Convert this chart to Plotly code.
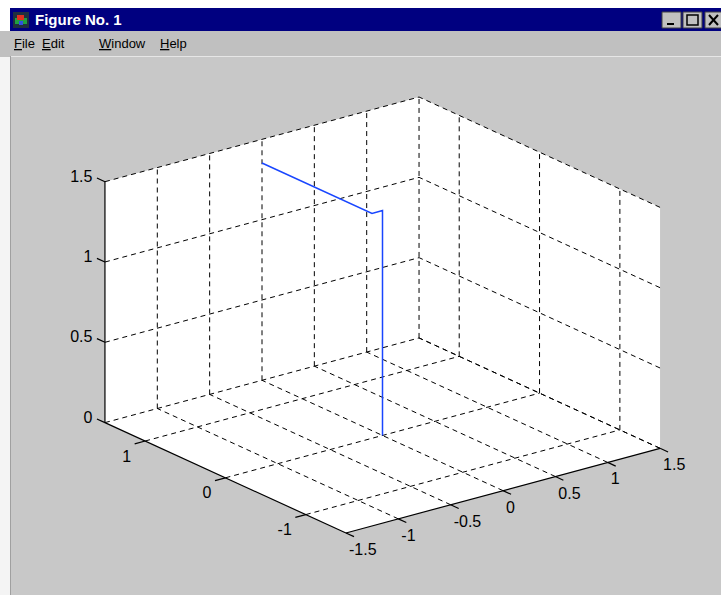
import math
import plotly.graph_objects as go

# ---------------- data ----------------
x_ticks = [-1.5, -1, -0.5, 0, 0.5, 1, 1.5]
x_tick_labels = ["-1.5", "-1", "-0.5", "0", "0.5", "1", "1.5"]
y_ticks = [-1, 0, 1]
y_tick_labels = ["-1", "0", "1"]
z_ticks = [0, 0.5, 1, 1.5]
z_tick_labels = ["0", "0.5", "1", "1.5"]

x_range = [-1.5, 1.5]
y_range = [-1.5, 1.5]
z_range = [0, 1.5]

path_x = [0, 0, -0.1, -0.1]
path_y = [0, 0, 0, 1.37]
path_z = [0, 1.4, 1.4, 1.4]

# ---------------- view (MATLAB default 3-D view) ----------------
AZ, EL = -37.5, 30.0
W, H = 721, 595
PX_U, PX_V = 395.9, 278.2          # stretch-to-fill scale of the plot box
CX, CY = 382.5, 315.0              # pixel position of the box centre

xmin, xmax = x_range
ymin, ymax = y_range
zmin, zmax = z_range

a = math.radians(AZ)
e = math.radians(EL)
R = (math.cos(a), math.sin(a), 0.0)
U = (-math.sin(e) * math.sin(a), math.sin(e) * math.cos(a), math.cos(e))

def proj(x, y, z):
    X = (x - (xmin + xmax) / 2) / (xmax - xmin)
    Y = (y - (ymin + ymax) / 2) / (ymax - ymin)
    Z = (z - (zmin + zmax) / 2) / (zmax - zmin)
    return (R[0] * X + R[1] * Y + R[2] * Z, U[0] * X + U[1] * Y + U[2] * Z)

def shifted(p, dx_px, dy_px_down):
    u, v = proj(*p)
    return (u + dx_px / PX_U, v - dy_px_down / PX_V)

def px(x):
    return x / W
def py(y):
    return 1 - y / H

def seg_xy(segs):
    xs, ys = [], []
    for (p, q) in segs:
        u1, v1 = proj(*p)
        u2, v2 = proj(*q)
        xs += [u1, u2, None]
        ys += [v1, v2, None]
    return xs, ys

def poly_xy(polys):
    xs, ys = [], []
    for poly in polys:
        for p in poly + [poly[0]]:
            u, v = proj(*p)
            xs.append(u)
            ys.append(v)
        xs.append(None)
        ys.append(None)
    return xs, ys

# white walls
walls = [
    [(xmin, ymin, zmin), (xmax, ymin, zmin), (xmax, ymax, zmin), (xmin, ymax, zmin)],
    [(xmin, ymax, zmin), (xmax, ymax, zmin), (xmax, ymax, zmax), (xmin, ymax, zmax)],
    [(xmax, ymin, zmin), (xmax, ymax, zmin), (xmax, ymax, zmax), (xmax, ymin, zmax)],
]

# dashed grid
grid = []
for xv in x_ticks:
    if xv != xmin:
        grid.append(((xv, ymin, zmin), (xv, ymax, zmin)))
        grid.append(((xv, ymax, zmin), (xv, ymax, zmax)))
for yv in y_ticks:
    grid.append(((xmin, yv, zmin), (xmax, yv, zmin)))
    grid.append(((xmax, yv, zmin), (xmax, yv, zmax)))
for zv in z_ticks:
    grid.append(((xmin, ymax, zv), (xmax, ymax, zv)))
    grid.append(((xmax, ymin, zv), (xmax, ymax, zv)))

# solid axes + ticks
tk = 0.1
axes = [
    ((xmin, ymin, zmin), (xmax, ymin, zmin)),
    ((xmin, ymin, zmin), (xmin, ymax, zmin)),
    ((xmin, ymax, zmin), (xmin, ymax, zmax)),
]
for xv in x_ticks:
    axes.append(((xv, ymin, zmin), (xv, ymin - tk, zmin)))
for yv in y_ticks:
    axes.append(((xmin, yv, zmin), (xmin - tk, yv, zmin)))
for zv in z_ticks:
    axes.append(((xmin, ymax, zv), (xmin, ymax + tk, zv)))

font = dict(family="Liberation Sans, Arial, sans-serif", size=16, color="black")

fig = go.Figure()

wx, wy = poly_xy(walls)
fig.add_trace(go.Scatter(x=wx, y=wy, mode="lines", fill="toself", fillcolor="white",
                         line=dict(width=0, color="white"), hoverinfo="skip"))
gx, gy = seg_xy(grid)
fig.add_trace(go.Scatter(x=gx, y=gy, mode="lines",
                         line=dict(color="black", width=1, dash="5px,4px"), hoverinfo="skip"))
ax_x, ax_y = seg_xy(axes)
fig.add_trace(go.Scatter(x=ax_x, y=ax_y, mode="lines",
                         line=dict(color="black", width=1.2), hoverinfo="skip"))
pp = [proj(x, y, z) for x, y, z in zip(path_x, path_y, path_z)]
fig.add_trace(go.Scatter(x=[p[0] for p in pp], y=[p[1] for p in pp], mode="lines",
                         line=dict(color="rgb(25,70,255)", width=1.5), hoverinfo="skip"))

# tick labels
lx = [shifted((xv, ymin, zmin), 3, 10) for xv in x_ticks]
fig.add_trace(go.Scatter(x=[p[0] for p in lx], y=[p[1] for p in lx], mode="text",
                         text=x_tick_labels, textposition="bottom right",
                         textfont=font, hoverinfo="skip"))
ly = [shifted((xmin, yv, zmin), -14, 8.5) for yv in y_ticks]
fig.add_trace(go.Scatter(x=[p[0] for p in ly], y=[p[1] for p in ly], mode="text",
                         text=y_tick_labels, textposition="bottom left",
                         textfont=font, hoverinfo="skip"))
lz = [shifted((xmin, ymax, zv), -12.5, -4) for zv in z_ticks]
fig.add_trace(go.Scatter(x=[p[0] for p in lz], y=[p[1] for p in lz], mode="text",
                         text=z_tick_labels, textposition="middle left",
                         textfont=font, hoverinfo="skip"))

fig.update_layout(
    width=W, height=H,
    margin=dict(l=0, r=0, t=0, b=0),
    paper_bgcolor="#c0c0c0",
    plot_bgcolor="rgba(0,0,0,0)",
    showlegend=False,
    hovermode=False,
    xaxis=dict(visible=False, domain=[0, 1], fixedrange=True,
               range=[(0 - CX) / PX_U, (W - CX) / PX_U]),
    yaxis=dict(visible=False, domain=[0, 1], fixedrange=True,
               range=[(CY - H) / PX_V, CY / PX_V]),
)

shapes = [
    dict(type="rect", x0=px(0), x1=px(W), y0=py(0), y1=py(8), fillcolor="white"),
    dict(type="rect", x0=px(0), x1=px(10), y0=py(8), y1=py(31), fillcolor="white"),
    dict(type="rect", x0=px(10), x1=px(W), y0=py(8), y1=py(31), fillcolor="#000080"),
    dict(type="rect", x0=px(0), x1=px(10), y0=py(57), y1=py(H), fillcolor="#f4f4f4"),
    dict(type="rect", x0=px(10), x1=px(W), y0=py(56), y1=py(H), fillcolor="#c8c8c8"),
    dict(type="rect", x0=px(13), x1=px(29), y0=py(12), y1=py(28), fillcolor="#203040"),
    dict(type="rect", x0=px(15), x1=px(27), y0=py(18), y1=py(24), fillcolor="#20a040"),
    dict(type="rect", x0=px(17), x1=px(24), y0=py(15), y1=py(20), fillcolor="#e03020"),
    dict(type="rect", x0=px(19), x1=px(23), y0=py(21), y1=py(25), fillcolor="#3050e0"),
]
for s in shapes:
    s.update(xref="paper", yref="paper", layer="below", line=dict(width=0))
shapes.append(dict(type="line", xref="paper", yref="paper", layer="below",
                   x0=px(10), x1=px(W), y0=py(56.5), y1=py(56.5), line=dict(color="#e6e6e6", width=1)))
shapes.append(dict(type="line", xref="paper", yref="paper", layer="below",
                   x0=px(10.5), x1=px(10.5), y0=py(56), y1=py(H), line=dict(color="#a0a0a0", width=1)))
for bx in [662, 683, 705]:
    shapes.append(dict(type="rect", xref="paper", yref="paper", layer="below",
                       x0=px(bx), x1=px(bx + 19), y0=py(12), y1=py(28),
                       fillcolor="#c0c0c0", line=dict(color="#404040", width=1)))
shapes.append(dict(type="line", xref="paper", yref="paper", x0=px(667), x1=px(674),
                   y0=py(24), y1=py(24), line=dict(color="black", width=2)))
shapes.append(dict(type="rect", xref="paper", yref="paper", x0=px(687), x1=px(698),
                   y0=py(15), y1=py(25), line=dict(color="black", width=1.5)))
shapes.append(dict(type="line", xref="paper", yref="paper", x0=px(709), x1=px(718),
                   y0=py(15), y1=py(25), line=dict(color="black", width=2)))
shapes.append(dict(type="line", xref="paper", yref="paper", x0=px(709), x1=px(718),
                   y0=py(25), y1=py(15), line=dict(color="black", width=2)))
fig.update_layout(shapes=shapes)

menu_font = dict(family="Liberation Sans, Arial, sans-serif", size=13, color="black")
ann = [
    dict(text="<b>Figure No. 1</b>", x=px(33), y=py(20), xanchor="left", yanchor="middle",
         showarrow=False, xref="paper", yref="paper",
         font=dict(family="Liberation Sans, Arial, sans-serif", size=15, color="white")),
]
for label, xpos in [("File", 12), ("Edit", 40), ("Window", 97), ("Help", 158)]:
    ann.append(dict(text='<span style="text-decoration:underline">' + label[0] + "</span>" + label[1:],
                    x=px(xpos), y=py(44), xanchor="left", yanchor="middle",
                    showarrow=False, xref="paper", yref="paper", font=menu_font))
fig.update_layout(annotations=ann)

fig.write_html("out.html", config={"displayModeBar": False, "staticPlot": True},
               post_script="document.body.style.margin='0px';")
